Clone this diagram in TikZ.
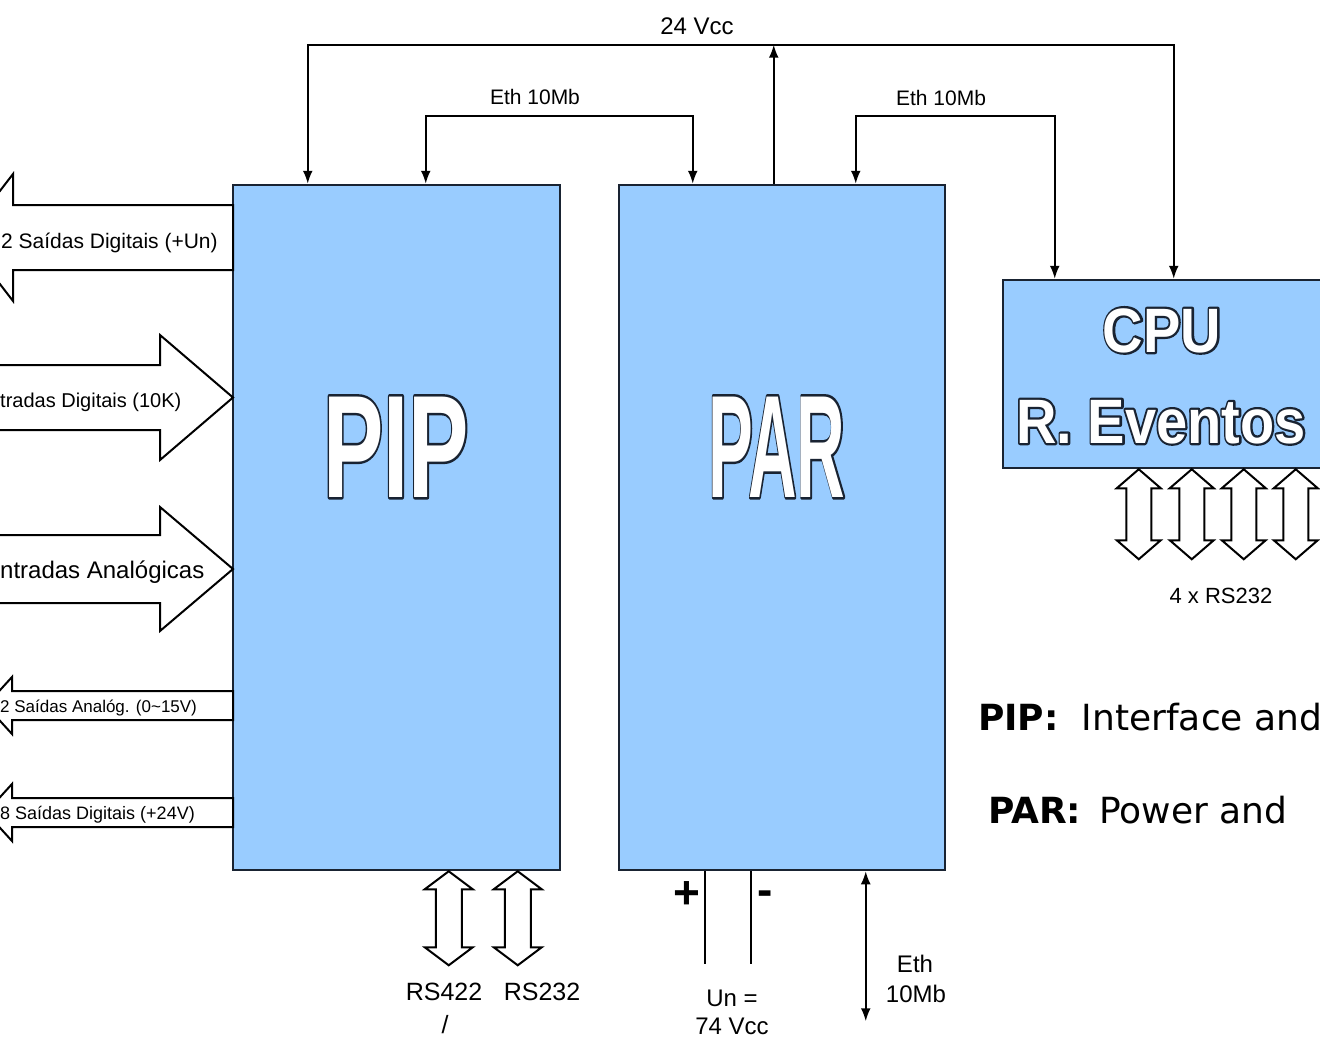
\documentclass[tikz,border=0pt]{standalone}
\usepackage{fontspec}
\setmainfont{Liberation Sans}
\newfontfamily\legendfont{DejaVu Sans}
\usetikzlibrary{arrows.meta,calc}
\definecolor{boxblue}{RGB}{153,204,255}
\definecolor{boxline}{RGB}{25,35,50}
\newcommand{\OutlinedText}[2]{\rlap{\special{pdf:literal direct 0.098 0.137 0.196 RG #1 w 1 j 1 Tr}#2\special{pdf:literal direct 0 Tr}}#2}
\newcommand{\VDblArrow}[5]{%
  \draw[hollow] (#1) -- ++(#3,#5) -- ++(#4-#3,0) -- ++(0,#2-2*#5) -- ++(#3-#4,0)
    -- ++(-#3,#5) -- ++(-#3,-#5) -- ++(#3-#4,0) -- ++(0,2*#5-#2) -- ++(#4-#3,0) -- cycle;}
\tikzset{
  unitbox/.style={draw=boxline, fill=boxblue, line width=2.5pt, inner sep=0pt},
  conn/.style={draw=black, line width=2pt},
  tipa/.style={-{Latex[length=13pt,width=10pt]}},
  tipb/.style={{Latex[length=13pt,width=10pt]}-{Latex[length=13pt,width=10pt]}},
  hollow/.style={draw=black, fill=white, line width=2pt, line join=miter},
  lbl/.style={anchor=base, inner sep=0pt, text=black},
  lblw/.style={anchor=base west, inner sep=0pt, text=black},
  bigtxt/.style={anchor=base, inner sep=0pt, text=white},
}
\begin{document}
\begin{tikzpicture}[x=1pt,y=-1pt]
\useasboundingbox (0,0) rectangle (1320,1038);
\clip (0,0) rectangle (1320,1038);
\fill[white] (0,0) rectangle (1320,1038);

% main units
\node[unitbox, minimum width=327pt, minimum height=685pt] (PIP) at (396.5,527.5) {};
\node[unitbox, minimum width=326pt, minimum height=685pt] (PAR) at (782,527.5) {};
\node[unitbox, minimum width=342pt, minimum height=188pt] (CPU) at (1174,374) {};

\node[bigtxt] (pipT) at (396,497) {\fontsize{146}{146}\selectfont\bfseries\scalebox{0.62}[1]{\OutlinedText{5}{PIP}}};
\node[bigtxt] (parT) at (777,497) {\fontsize{146}{146}\selectfont\bfseries\scalebox{0.46}[1]{\OutlinedText{5}{PAR}}};
\node[bigtxt] (cpuT) at (1162,352) {\fontsize{56}{56}\selectfont\bfseries\scalebox{1}[1.12]{\OutlinedText{4}{CPU}}};
\node[bigtxt] (evT) at (1161,443) {\fontsize{56}{56}\selectfont\bfseries\scalebox{1}[1.12]{\OutlinedText{4}{R. Eventos}}};

% 24 Vcc bus
\coordinate (vbus) at ([xshift=156pt,yshift=139pt]PAR.north west);
\draw[conn,tipa] ([xshift=156pt]PAR.north west) -- (vbus);
\draw[conn,tipa] (vbus) -| ([xshift=76pt]PIP.north west);
\draw[conn,tipa] (vbus) -| ([xshift=172pt]CPU.north west);
\node[lbl, font=\fontsize{24}{28}\selectfont] (vccL) at (697,35) {24 Vcc};

% Ethernet links
\draw[conn,tipb] ([xshift=194pt]PIP.north west) -- ++(0,-68) -| ([xshift=75pt]PAR.north west);
\draw[conn,tipb] ([xshift=238pt]PAR.north west) -- ++(0,-68) -| ([xshift=53pt]CPU.north west);
\node[lbl, font=\fontsize{21}{25}\selectfont] (ethL1) at (535,105) {Eth 10Mb};
\node[lbl, font=\fontsize{21}{25}\selectfont] (ethL2) at (941,106) {Eth 10Mb};

% left block arrows
\draw[hollow] (233,205) -- (13,205) -- (13,174) -- (-36,237.5) -- (13,301) -- (13,270) -- (233,270) -- cycle;
\draw[hollow] (-10,365) -- (160,365) -- (160,335) -- (233,397.5) -- (160,460) -- (160,430) -- (-10,430) -- cycle;
\draw[hollow] (-10,535) -- (160,535) -- (160,507) -- (233,569) -- (160,631) -- (160,603) -- (-10,603) -- cycle;
\draw[hollow] (233,691) -- (12,691) -- (12,677) -- (-14,705.5) -- (12,734) -- (12,720) -- (233,720) -- cycle;
\draw[hollow] (233,798) -- (12,798) -- (12,784) -- (-14,812.5) -- (12,841) -- (12,827) -- (233,827) -- cycle;
\node[lblw, font=\fontsize{21}{25}\selectfont] (l1) at (1,248) {2 Saídas Digitais (+Un)};
\node[lblw, font=\fontsize{20}{24}\selectfont] (l2) at (0,407) {tradas Digitais (10K)};
\node[lblw, font=\fontsize{24}{28}\selectfont] (l3) at (0,578) {ntradas Analógicas};
\node[lblw, font=\fontsize{17}{20}\selectfont] (l4) at (0,712) {2 Saídas Analóg. (0\textasciitilde15V)};
\node[lblw, font=\fontsize{18}{21}\selectfont] (l5) at (0,819) {8 Saídas Digitais (+24V)};

% serial ports of PIP
\coordinate (rsA) at ([xshift=217pt]PIP.south west);
\coordinate (rsB) at ([xshift=286pt]PIP.south west);
\VDblArrow{rsA}{94}{24}{13}{18}
\VDblArrow{rsB}{94}{24}{13}{18}
\node[lbl, font=\fontsize{25}{29}\selectfont] (rs422L) at (444,1000) {RS422};
\node[lbl, font=\fontsize{25}{29}\selectfont] (rs232L) at (542,1000) {RS232};
\node[lbl, font=\fontsize{25}{29}\selectfont] (slashL) at (445,1033) {/};

% PAR supply and ethernet
\draw[conn] ([xshift=87pt]PAR.south west) -- ++(0,93);
\draw[conn] ([xshift=133pt]PAR.south west) -- ++(0,93);
\node[lbl, font=\fontsize{46}{46}\selectfont\bfseries] (plusL) at (687,908) {+};
\node[lbl, font=\fontsize{46}{46}\selectfont\bfseries] (minusL) at (765,905) {-};
\node[lbl, font=\fontsize{24}{28}\selectfont] (unL) at (732,1006) {Un =};
\node[lbl, font=\fontsize{24}{28}\selectfont] (vL) at (732,1034) {74 Vcc};
\coordinate (ethEnd) at ([xshift=248pt,yshift=-150pt]PAR.south west);
\draw[conn,tipb] ([xshift=248pt]PAR.south west) -- (ethEnd);
\node[lbl, font=\fontsize{24}{28}\selectfont] (ethL3) at (915,972) {Eth};
\node[lbl, font=\fontsize{24}{28}\selectfont] (ethL4) at (916,1002) {10Mb};

% CPU serial ports
\coordinate (cA) at ([xshift=137pt]CPU.south west);
\coordinate (cB) at ([xshift=190pt]CPU.south west);
\coordinate (cC) at ([xshift=242pt]CPU.south west);
\coordinate (cD) at ([xshift=294pt]CPU.south west);
\VDblArrow{cA}{90}{22}{12.5}{19}
\VDblArrow{cB}{90}{22}{12.5}{19}
\VDblArrow{cC}{90}{22}{12.5}{19}
\VDblArrow{cD}{90}{22}{12.5}{19}
\node[lbl, font=\fontsize{22}{26}\selectfont] (rs4L) at (1221,603) {4 x RS232};

% legend
\node[lblw, font=\legendfont\fontsize{36}{40}\selectfont] (legPIP) at (978,730) {\textbf{PIP:}\hspace{23pt}Interface and};
\node[lblw, font=\legendfont\fontsize{36}{40}\selectfont] (legPAR) at (988,823) {\textbf{PAR:}\hspace{18pt}Power and};
\end{tikzpicture}
\end{document}
